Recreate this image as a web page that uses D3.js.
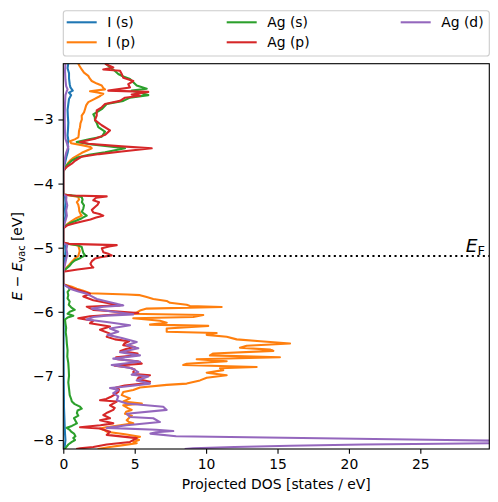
<!DOCTYPE html>
<html><head><meta charset="utf-8">
<script src="https://cdn.jsdelivr.net/npm/d3@7"></script>
<style>body{margin:0;background:#fff}svg{display:block}text{font-family:"DejaVu Sans",sans-serif}</style>
</head><body><svg id="c" width="498" height="502"></svg>
<script>
// ---- data: [energy (eV), projected DOS (states/eV)] ----
const seriesNames = ["I (s)", "I (p)", "Ag (s)", "Ag (p)", "Ag (d)"];
const iS = [[-2.13,0.35],[-2.20,0.3],[-2.28,0.4],[-2.36,0.4],[-2.45,0.45],[-2.50,0.5],[-2.55,0.66],[-2.58,0.4],[-2.62,0.55],[-2.68,0.4],[-2.76,0.35],[-2.85,0.3],[-2.95,0.32],[-3.05,0.35],[-3.15,0.33],[-3.25,0.3],[-3.32,0.35],[-3.40,0.3],[-3.46,0.35],[-3.52,0.3],[-3.58,0.22],[-3.65,0.15],[-3.72,0.08],[-3.78,0.02],[-3.80,0],
 [-4.17,0],[-4.20,0.12],[-4.30,0.15],[-4.40,0.12],[-4.50,0.15],[-4.60,0.08],[-4.70,0],
 [-4.93,0],[-4.96,0.12],[-5.05,0.15],[-5.15,0.12],[-5.25,0.08],[-5.38,0],
 [-5.57,0],[-5.70,0.03],[-6.00,0.03],[-6.50,0.02],[-7.00,0.03],[-7.50,0.05],[-7.80,0.1],[-7.90,0.12],[-8.00,0.15],[-8.10,0.1],[-8.14,0.08]];
const iP = [[-2.13,1.05],[-2.17,1.15],[-2.22,1.29],[-2.27,1.45],[-2.32,1.75],[-2.36,1.85],[-2.40,1.99],[-2.44,2.35],[-2.47,2.69],[-2.51,2.8],[-2.53,2.92],[-2.56,1.87],[-2.58,2.4],[-2.60,2.8],[-2.63,2.6],[-2.65,2.45],[-2.69,2.1],[-2.73,1.75],[-2.78,1.6],[-2.84,1.52],[-2.89,1.45],[-2.94,1.29],[-3.00,1.3],[-3.06,1.2],[-3.12,1.17],[-3.18,1.1],[-3.24,1.08],[-3.28,1.05],[-3.31,0.8],[-3.34,0.47],[-3.37,0.55],[-3.40,1.3],[-3.43,1.9],[-3.45,1.99],[-3.48,1.7],[-3.52,1.3],[-3.56,1.0],[-3.60,0.7],[-3.64,0.47],[-3.69,0.3],[-3.74,0.15],[-3.78,0.05],[-3.82,0],
 [-4.17,0],[-4.19,0.6],[-4.21,1.05],[-4.25,1.1],[-4.29,0.95],[-4.33,1.05],[-4.38,1.1],[-4.43,1.12],[-4.47,1.2],[-4.50,1.29],[-4.54,0.9],[-4.58,0.6],[-4.62,0.35],[-4.66,0.15],[-4.70,0],
 [-4.93,0],[-4.95,0.7],[-4.97,1.05],[-5.01,1.1],[-5.05,1.15],[-5.09,1.1],[-5.13,1.05],[-5.17,0.8],[-5.22,0.6],[-5.27,0.4],[-5.32,0.18],[-5.38,0],
 [-5.57,0],[-5.59,0.3],[-5.61,0.6],[-5.64,0.94],[-5.67,1.4],[-5.71,1.87],[-5.73,4.5],[-5.74,5.37],[-5.77,5.84],[-5.80,6.3],[-5.83,7.24],[-5.86,7.47],[-5.89,8.64],[-5.91,8.87],[-5.925,11.09],[-5.95,5.84],[-5.98,5.37],[-6.01,5.14],[-6.03,4.67],[-6.05,9.8],[-6.08,9.1],[-6.10,4.9],[-6.14,6.77],[-6.17,7.24],[-6.20,6.07],[-6.22,10.15],[-6.26,7.24],[-6.31,7.24],[-6.33,10.74],[-6.36,10.04],[-6.39,11.44],[-6.43,12.14],[-6.46,13.8],[-6.495,15.88],[-6.53,12.84],[-6.56,12.37],[-6.59,14.5],[-6.61,14.71],[-6.65,10.5],[-6.68,10.27],[-6.71,15.17],[-6.74,9.34],[-6.77,11.44],[-6.81,8.64],[-6.83,8.4],[-6.86,13.54],[-6.88,10.97],[-6.91,11.2],[-6.95,10.04],[-6.99,11.44],[-7.03,10.04],[-7.07,9.57],[-7.12,8.64],[-7.14,7.24],[-7.18,5.37],[-7.22,4.9],[-7.25,4.2],[-7.30,4.09],[-7.35,4.67],[-7.40,4.2],[-7.43,5.5],[-7.46,4.2],[-7.50,4.5],[-7.53,4.79],[-7.56,4.4],[-7.59,4.32],[-7.62,4.8],[-7.64,4.67],[-7.69,4.44],[-7.72,4.6],[-7.74,4.9],[-7.77,4.0],[-7.80,3.0],[-7.82,2.57],[-7.85,2.9],[-7.87,3.04],[-7.91,4.32],[-7.95,5.37],[-7.97,5.0],[-8.00,5.3],[-8.03,4.9],[-8.05,5.14],[-8.08,4.2],[-8.11,3.27],[-8.14,2.4]];
const agS = [[-2.13,3.0],[-2.19,3.27],[-2.24,3.6],[-2.29,3.85],[-2.33,4.2],[-2.37,4.67],[-2.42,4.9],[-2.47,5.14],[-2.52,5.84],[-2.55,4.79],[-2.58,5.3],[-2.62,5.95],[-2.66,4.67],[-2.71,4.2],[-2.76,3.04],[-2.84,2.69],[-2.92,2.1],[-2.96,2.2],[-3.01,2.22],[-3.06,2.35],[-3.12,2.45],[-3.19,2.92],[-3.27,2.69],[-3.31,1.8],[-3.35,0.94],[-3.39,2.0],[-3.45,4.32],[-3.51,2.92],[-3.55,1.8],[-3.59,1.05],[-3.64,0.6],[-3.69,0.35],[-3.73,0.2],[-3.77,0.12],[-3.81,0],
 [-4.17,0],[-4.19,0.8],[-4.21,1.29],[-4.25,1.35],[-4.29,1.3],[-4.34,1.45],[-4.39,1.4],[-4.44,1.3],[-4.47,1.45],[-4.50,1.64],[-4.54,1.3],[-4.58,0.9],[-4.62,0.45],[-4.66,0.15],[-4.70,0],
 [-4.93,0],[-4.96,1.0],[-4.99,1.29],[-5.04,1.35],[-5.08,1.4],[-5.12,1.52],[-5.16,1.2],[-5.20,0.8],[-5.24,0.59],[-5.28,0.45],[-5.32,0.24],[-5.36,0.05],[-5.38,0],
 [-5.57,0],[-5.61,0.35],[-5.65,0.45],[-5.69,0.3],[-5.74,0.35],[-5.79,0.3],[-5.84,0.45],[-5.89,0.38],[-5.93,0.55],[-5.97,0.8],[-6.00,0.45],[-6.03,0.3],[-6.06,0.7],[-6.09,0.3],[-6.12,0.12],[-6.18,0.15],[-6.25,0.2],[-6.32,0.17],[-6.40,0.22],[-6.50,0.25],[-6.60,0.3],[-6.70,0.28],[-6.80,0.35],[-6.90,0.38],[-7.00,0.4],[-7.10,0.35],[-7.20,0.4],[-7.30,0.45],[-7.36,0.55],[-7.40,0.6],[-7.44,0.8],[-7.48,1.17],[-7.51,1.29],[-7.54,1.0],[-7.58,0.95],[-7.62,1.05],[-7.66,0.75],[-7.70,0.85],[-7.74,0.95],[-7.78,0.6],[-7.81,0.24],[-7.84,0.45],[-7.87,0.55],[-7.90,0.75],[-7.94,0.85],[-7.97,0.7],[-8.00,0.82],[-8.03,0.6],[-8.07,0.35],[-8.11,0.2],[-8.14,0.1]];
const agP = [[-2.13,2.92],[-2.19,3.5],[-2.22,2.8],[-2.24,3.97],[-2.29,4.09],[-2.35,4.2],[-2.40,4.9],[-2.45,4.55],[-2.50,4.67],[-2.55,3.15],[-2.57,5.95],[-2.61,4.79],[-2.63,5.37],[-2.66,4.32],[-2.71,3.97],[-2.76,2.92],[-2.81,2.69],[-2.86,2.34],[-2.94,2.34],[-3.01,2.22],[-3.09,2.69],[-3.17,3.27],[-3.24,2.92],[-3.30,2.22],[-3.35,1.17],[-3.38,1.75],[-3.42,4.09],[-3.45,6.19],[-3.50,4.09],[-3.54,2.5],[-3.58,1.29],[-3.64,0.85],[-3.69,0.59],[-3.73,0.3],[-3.77,0.12],[-3.80,0],
 [-4.17,0],[-4.185,0.6],[-4.20,3.04],[-4.22,2.3],[-4.26,2.1],[-4.29,2.5],[-4.33,2.4],[-4.37,2.2],[-4.41,2.0],[-4.45,2.1],[-4.48,2.6],[-4.50,2.8],[-4.53,2.3],[-4.56,1.9],[-4.59,1.3],[-4.62,0.8],[-4.65,0.3],[-4.69,0.05],[-4.70,0],
 [-4.92,0],[-4.94,0.4],[-4.96,3.74],[-4.98,3.2],[-5.01,2.7],[-5.04,2.75],[-5.07,2.8],[-5.10,3.2],[-5.12,3.39],[-5.15,2.6],[-5.17,2.22],[-5.21,2.0],[-5.25,1.9],[-5.29,2.0],[-5.31,2.1],[-5.34,1.0],[-5.37,0.1],[-5.38,0],
 [-5.57,0],[-5.60,0.3],[-5.64,0.7],[-5.68,1.3],[-5.72,1.87],[-5.76,1.4],[-5.82,2.1],[-5.87,3.27],[-5.90,3.97],[-5.92,1.64],[-5.97,2.1],[-6.02,5.25],[-6.07,1.87],[-6.10,1.05],[-6.14,2.1],[-6.18,1.87],[-6.23,3.27],[-6.28,2.57],[-6.34,3.27],[-6.39,3.04],[-6.43,3.62],[-6.46,4.6],[-6.49,4.3],[-6.52,4.2],[-6.55,5.0],[-6.58,4.4],[-6.61,4.0],[-6.65,5.2],[-6.68,5.1],[-6.71,3.7],[-6.74,3.8],[-6.77,5.2],[-6.81,5.49],[-6.84,3.6],[-6.87,4.6],[-6.90,5.0],[-6.94,4.9],[-6.97,5.0],[-6.99,6.07],[-7.02,5.3],[-7.05,5.2],[-7.09,6.07],[-7.12,5.6],[-7.15,4.3],[-7.18,3.7],[-7.21,3.9],[-7.25,3.85],[-7.29,3.6],[-7.33,3.3],[-7.36,3.0],[-7.38,2.57],[-7.40,3.74],[-7.46,3.27],[-7.50,3.6],[-7.53,3.5],[-7.57,3.1],[-7.61,2.8],[-7.66,3.27],[-7.69,2.57],[-7.74,3.5],[-7.77,2.6],[-7.80,1.17],[-7.82,2.57],[-7.87,3.27],[-7.92,3.04],[-7.97,5.14],[-8.03,4.67],[-8.07,3.04],[-8.11,2.1],[-8.13,1.17],[-8.14,0.9]];
const agD = [[-2.13,0.15],[-2.25,0.12],[-2.38,0.15],[-2.48,0.2],[-2.53,0.3],[-2.56,0.24],[-2.62,0.15],[-2.75,0.12],[-2.90,0.1],[-3.05,0.1],[-3.20,0.12],[-3.30,0.15],[-3.37,0.25],[-3.42,0.35],[-3.46,0.3],[-3.52,0.2],[-3.60,0.12],[-3.70,0.06],[-3.78,0.02],[-3.82,0],
 [-4.17,0],[-4.20,0.22],[-4.26,0.2],[-4.34,0.28],[-4.42,0.2],[-4.50,0.25],[-4.58,0.15],[-4.65,0.05],[-4.70,0],
 [-4.93,0],[-4.96,0.28],[-5.02,0.22],[-5.10,0.28],[-5.18,0.2],[-5.26,0.12],[-5.33,0.04],[-5.38,0],
 [-5.57,0],[-5.60,0.2],[-5.64,0.47],[-5.68,1.0],[-5.72,1.64],[-5.76,2.0],[-5.80,2.34],[-5.85,3.27],[-5.88,3.8],[-5.90,4.2],[-5.92,2.8],[-5.95,1.99],[-5.98,2.9],[-6.00,3.5],[-6.04,4.9],[-6.06,3.0],[-6.08,2.1],[-6.12,1.64],[-6.16,3.04],[-6.21,4.67],[-6.26,3.27],[-6.31,3.85],[-6.36,3.1],[-6.41,4.1],[-6.47,5.14],[-6.52,4.44],[-6.57,5.25],[-6.63,3.97],[-6.68,5.37],[-6.73,3.5],[-6.78,5.37],[-6.83,3.39],[-6.88,4.79],[-6.94,5.25],[-6.98,4.79],[-7.01,5.95],[-7.07,5.14],[-7.12,6.07],[-7.17,4.2],[-7.19,3.27],[-7.22,3.85],[-7.27,3.5],[-7.32,3.85],[-7.38,3.74],[-7.43,4.44],[-7.48,7.0],[-7.53,7.24],[-7.59,4.44],[-7.64,4.67],[-7.66,6.3],[-7.72,6.77],[-7.77,4.44],[-7.81,3.04],[-7.84,6.5],[-7.86,7.7],[-7.88,6.5],[-7.90,6.1],[-7.94,7.9],[-7.96,14.2],[-7.98,20.5],[-8.00,26.8],[-8.01,30.0],[-8.03,40.0],[-8.05,30.0],[-8.07,21.0],[-8.09,15.9],[-8.11,12.0],[-8.13,9.1],[-8.14,8.5]];
const seriesData = [iS, iP, agS, agP, agD];
const xTicks = [0, 5, 10, 15, 20, 25];
const yTicks = [-8, -7, -6, -5, -4, -3];
const fermiLevel = -5.13;
const xLimits = [0, 29.83];
const yLimits = [-8.14, -2.13];

// ---- styles ----
const colors = ["#1f77b4", "#ff7f0e", "#2ca02c", "#d62728", "#9467bd"];
const W = 498, H = 502;
const m = {left: 63.3, right: 489.3, top: 63.7, bottom: 449};
const FS = 13.9;

const svg = d3.select("#c");
const x = d3.scaleLinear().domain(xLimits).range([m.left, m.right]);
const y = d3.scaleLinear().domain(yLimits).range([m.bottom, m.top]);

svg.append("defs").append("clipPath").attr("id", "clip")
  .append("rect").attr("x", m.left).attr("y", m.top)
  .attr("width", m.right - m.left).attr("height", m.bottom - m.top);

const line = d3.line().x(d => x(d[1])).y(d => y(d[0]));
const plot = svg.append("g").attr("clip-path", "url(#clip)");
seriesData.forEach((s, i) => {
  plot.append("path").datum(s).attr("d", line)
    .attr("fill", "none").attr("stroke", colors[i])
    .attr("stroke-width", 2.08).attr("stroke-linejoin", "round").attr("stroke-linecap", "butt");
});

// Fermi level
plot.append("line").attr("x1", x(xLimits[0])).attr("x2", x(xLimits[1]))
  .attr("y1", y(fermiLevel)).attr("y2", y(fermiLevel))
  .attr("stroke", "#000").attr("stroke-width", 2.08).attr("stroke-dasharray", "2.08 3.44");
const ef = svg.append("text").attr("x", 485).attr("y", y(fermiLevel) - 4)
  .attr("text-anchor", "end").attr("font-size", 18.5);
ef.append("tspan").attr("font-style", "italic").text("E");
ef.append("tspan").attr("font-size", 13).attr("dy", 3).text("F");

// axes
const xAxis = d3.axisBottom(x).tickValues(xTicks).tickSize(4.86).tickPadding(4.86).tickFormat(d3.format("d"));
const yAxis = d3.axisLeft(y).tickValues(yTicks).tickSize(4.86).tickPadding(4.86).tickFormat(d3.format("d"));
const gx = svg.append("g").attr("transform", `translate(0,${m.bottom})`).call(xAxis);
const gy = svg.append("g").attr("transform", `translate(${m.left},0)`).call(yAxis);
[gx, gy].forEach(g => {
  g.select(".domain").remove();
  g.selectAll(".tick line").attr("stroke", "#000").attr("stroke-width", 1.1);
  g.selectAll(".tick text").attr("font-size", FS).attr("fill", "#000").attr("font-family", "DejaVu Sans");
});

// spines
svg.append("rect").attr("x", m.left).attr("y", m.top)
  .attr("width", m.right - m.left).attr("height", m.bottom - m.top)
  .attr("fill", "none").attr("stroke", "#000").attr("stroke-width", 1.1);

// axis labels
svg.append("text").attr("x", (m.left + m.right) / 2).attr("y", 489)
  .attr("text-anchor", "middle").attr("font-size", FS).text("Projected DOS [states / eV]");
const yl = svg.append("text").attr("transform", `translate(22,${(m.top + m.bottom) / 2}) rotate(-90)`)
  .attr("text-anchor", "middle").attr("font-size", FS);
yl.append("tspan").attr("font-style", "italic").text("E");
yl.append("tspan").text(" \u2212 ");
yl.append("tspan").attr("font-style", "italic").text("E");
yl.append("tspan").attr("font-size", 9.7).attr("dy", 2.5).text("vac");
yl.append("tspan").attr("dy", -2.5).text(" [eV]");

// legend
const lg = svg.append("g");
lg.append("rect").attr("x", 63.3).attr("y", 10.7).attr("width", 426).attr("height", 45.3)
  .attr("rx", 2.8).attr("fill", "#fff").attr("fill-opacity", 0.8)
  .attr("stroke", "#cccccc").attr("stroke-width", 1.1);
const colX = [66.7, 226.7, 400.7];
const rowY = [22.3, 42.3];
seriesNames.forEach((name, i) => {
  const c = Math.floor(i / 2), r = i % 2;
  const gx0 = colX[c], gy0 = rowY[r];
  lg.append("line").attr("x1", gx0).attr("x2", gx0 + 30).attr("y1", gy0).attr("y2", gy0)
    .attr("stroke", colors[i]).attr("stroke-width", 2.08);
  lg.append("text").attr("x", gx0 + 40.5).attr("y", gy0 + 5).attr("font-size", FS).text(name);
});
</script></body></html>
